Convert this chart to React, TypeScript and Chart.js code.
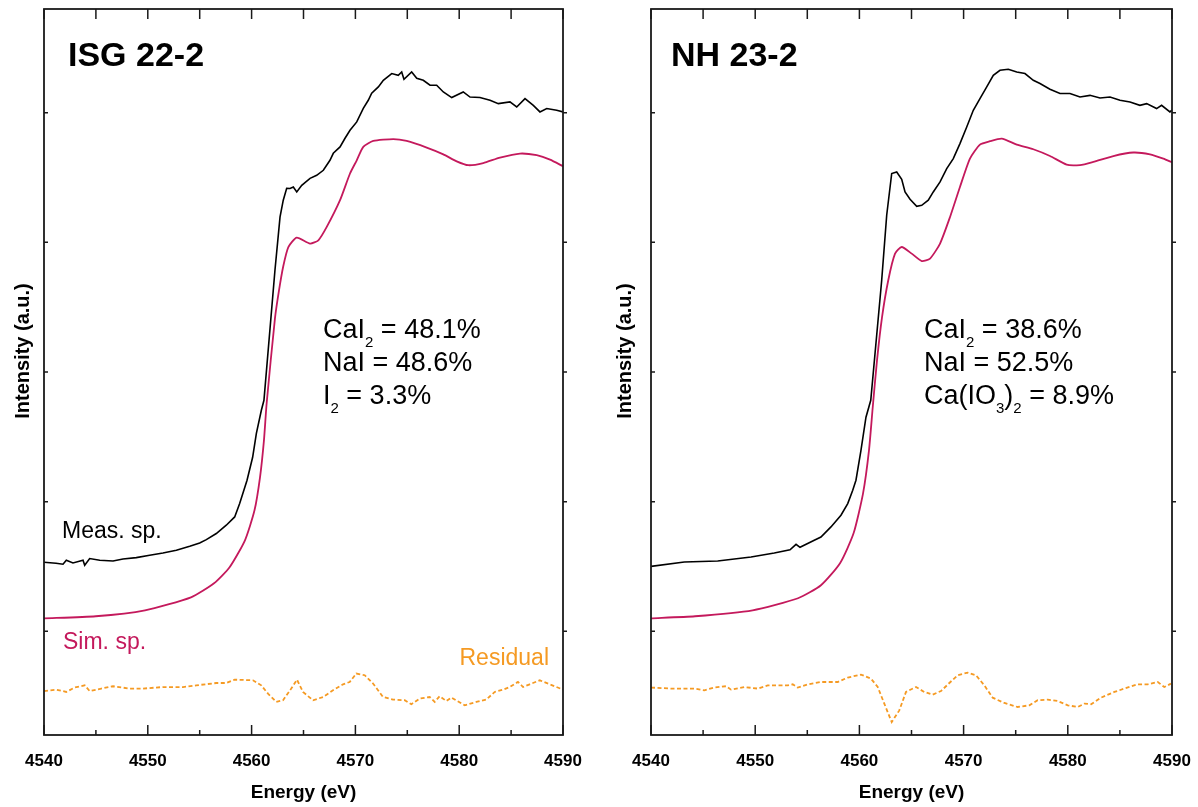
import React, { useEffect, useRef } from "react";
import { Chart, registerables } from "chart.js";

Chart.register(...registerables);

const FONT = "'Liberation Sans', Arial, Helvetica, sans-serif";
const PINK = "#c4195c";
const ORANGE = "#f59a23";

// ---- axes ----
const energyTicks = [4540, 4550, 4560, 4570, 4580, 4590];
const energyTickLabels = ["4540", "4550", "4560", "4570", "4580", "4590"];
const energyMinorTicks = [4545, 4555, 4565, 4575, 4585];
const intensityTicks = [0, 1, 2, 3, 4];
const xTitle = "Energy (eV)";
const yTitle = "Intensity (a.u.)";

type Pair = [number, number];

// ---- ISG 22-2 : [energy (eV), intensity (a.u.)] ----
const isgMeasured: Pair[] = [
  [4540.0, 0.532], [4541.16, 0.525], [4541.83, 0.517], [4542.15, 0.548], [4542.79, 0.527],
  [4543.76, 0.548], [4543.92, 0.509], [4544.4, 0.561], [4545.37, 0.548], [4546.65, 0.542],
  [4547.61, 0.558], [4548.89, 0.568], [4550.18, 0.586], [4551.46, 0.604], [4552.75, 0.625],
  [4554.04, 0.656], [4555.0, 0.681], [4555.64, 0.707], [4556.6, 0.754], [4557.56, 0.818],
  [4558.37, 0.882], [4558.85, 0.985], [4559.56, 1.165], [4560.1, 1.342], [4560.46, 1.527],
  [4560.94, 1.705], [4561.19, 1.782], [4562.25, 2.785], [4562.74, 3.196], [4563.05, 3.325],
  [4563.38, 3.417], [4563.7, 3.415], [4564.02, 3.427], [4564.35, 3.389], [4564.83, 3.44],
  [4565.63, 3.494], [4566.27, 3.517], [4566.91, 3.556], [4567.55, 3.633], [4567.87, 3.687],
  [4568.52, 3.736], [4569.0, 3.803], [4569.48, 3.865], [4570.13, 3.929], [4570.76, 4.034],
  [4571.24, 4.096], [4571.57, 4.15], [4572.21, 4.199], [4572.69, 4.25], [4573.5, 4.302],
  [4574.13, 4.289], [4574.46, 4.314], [4574.68, 4.258], [4575.42, 4.314], [4575.91, 4.266],
  [4576.54, 4.25], [4577.19, 4.212], [4577.83, 4.212], [4578.47, 4.16], [4579.28, 4.117],
  [4580.39, 4.16], [4581.04, 4.121], [4582.0, 4.117], [4582.97, 4.096], [4583.77, 4.07],
  [4584.89, 4.083], [4585.54, 4.044], [4586.34, 4.109], [4587.14, 4.057], [4587.78, 4.006],
  [4588.43, 4.032], [4589.39, 4.019], [4590.0, 4.006],
];
const isgSimulated: Pair[] = [
  [4540.0, 0.1], [4544.98, 0.116], [4549.73, 0.162], [4554.16, 0.262], [4556.38, 0.37],
  [4557.88, 0.494], [4559.36, 0.702], [4560.28, 0.933], [4560.81, 1.188], [4561.19, 1.473],
  [4561.45, 1.759], [4562.25, 2.414], [4562.64, 2.63], [4563.05, 2.816], [4563.54, 2.964],
  [4564.35, 3.037], [4565.63, 2.991], [4566.43, 3.016], [4567.24, 3.119], [4568.52, 3.325],
  [4569.48, 3.531], [4570.13, 3.633], [4570.76, 3.736], [4571.72, 3.782], [4573.65, 3.797],
  [4574.94, 3.782], [4576.87, 3.731], [4578.47, 3.679], [4579.76, 3.625], [4580.88, 3.595],
  [4582.32, 3.612], [4583.93, 3.654], [4585.86, 3.685], [4587.47, 3.672], [4588.75, 3.638],
  [4590.0, 3.587],
];
const isgResidual: Pair[] = [
  [4540.0, -0.461], [4541.18, -0.45], [4542.15, -0.468], [4542.96, -0.434], [4543.92, -0.417],
  [4544.4, -0.461], [4545.52, -0.442], [4546.65, -0.424], [4548.26, -0.442], [4549.54, -0.442],
  [4551.46, -0.43], [4553.39, -0.43], [4554.67, -0.417], [4556.6, -0.399], [4557.56, -0.399],
  [4558.37, -0.373], [4560.13, -0.378], [4560.93, -0.417], [4561.58, -0.481], [4562.38, -0.545],
  [4563.03, -0.532], [4563.82, -0.442], [4564.37, -0.373], [4564.95, -0.468], [4565.92, -0.532],
  [4566.88, -0.507], [4567.84, -0.455], [4568.81, -0.409], [4569.45, -0.391], [4570.09, -0.326],
  [4570.9, -0.339], [4571.7, -0.403], [4572.66, -0.507], [4573.62, -0.527], [4574.75, -0.532],
  [4575.39, -0.563], [4576.19, -0.519], [4577.16, -0.507], [4577.64, -0.545], [4578.12, -0.501],
  [4578.76, -0.538], [4579.24, -0.511], [4580.53, -0.571], [4581.65, -0.545], [4582.61, -0.527],
  [4583.42, -0.468], [4584.22, -0.45], [4584.86, -0.43], [4585.66, -0.391], [4586.15, -0.43],
  [4586.79, -0.409], [4587.76, -0.378], [4588.72, -0.409], [4590.0, -0.45],
];

// ---- NH 23-2 ----
const nhMeasured: Pair[] = [
  [4540.0, 0.501], [4543.2, 0.535], [4546.4, 0.542], [4549.6, 0.573], [4551.83, 0.604],
  [4553.34, 0.629], [4553.92, 0.671], [4554.3, 0.648], [4555.67, 0.702], [4556.31, 0.727],
  [4557.27, 0.805], [4558.23, 0.895], [4558.88, 0.985], [4559.36, 1.088], [4559.67, 1.165],
  [4560.15, 1.396], [4560.63, 1.651], [4561.09, 1.782], [4562.14, 2.708], [4562.62, 3.209],
  [4563.1, 3.531], [4563.58, 3.543], [4564.06, 3.487], [4564.38, 3.389], [4564.86, 3.332],
  [4565.5, 3.278], [4565.98, 3.286], [4566.61, 3.325], [4567.09, 3.389], [4567.74, 3.466],
  [4568.38, 3.569], [4569.01, 3.646], [4569.65, 3.762], [4570.3, 3.89], [4570.93, 4.019],
  [4571.57, 4.109], [4572.22, 4.199], [4572.85, 4.289], [4573.49, 4.327], [4574.29, 4.335],
  [4575.1, 4.314], [4575.89, 4.302], [4576.69, 4.25], [4577.33, 4.225], [4578.29, 4.181],
  [4579.25, 4.148], [4580.21, 4.148], [4581.17, 4.121], [4582.13, 4.134], [4583.09, 4.114],
  [4584.05, 4.121], [4585.01, 4.096], [4585.97, 4.083], [4586.92, 4.057], [4587.57, 4.07],
  [4588.52, 4.032], [4589.0, 4.057], [4589.8, 4.006], [4590.0, 4.02],
];
const nhSimulated: Pair[] = [
  [4540.0, 0.1], [4544.22, 0.116], [4549.75, 0.162], [4554.11, 0.255], [4556.31, 0.355],
  [4558.14, 0.525], [4559.44, 0.756], [4560.35, 1.064], [4560.92, 1.396], [4561.28, 1.728],
  [4561.69, 2.09], [4562.17, 2.422], [4562.77, 2.708], [4563.42, 2.913], [4564.06, 2.964],
  [4565.02, 2.913], [4565.98, 2.856], [4566.78, 2.875], [4567.74, 2.991], [4568.7, 3.196],
  [4569.65, 3.427], [4570.61, 3.646], [4571.57, 3.754], [4572.53, 3.78], [4573.66, 3.8],
  [4575.1, 3.754], [4576.69, 3.718], [4578.29, 3.666], [4579.89, 3.6], [4581.17, 3.595],
  [4582.45, 3.62], [4584.37, 3.666], [4586.29, 3.693], [4587.89, 3.679], [4589.17, 3.646],
  [4590.0, 3.618],
];
const nhResidual: Pair[] = [
  [4540.0, -0.434], [4541.92, -0.442], [4544.16, -0.442], [4545.12, -0.455], [4546.07, -0.434],
  [4547.2, -0.424], [4547.68, -0.45], [4548.95, -0.43], [4550.24, -0.442], [4551.2, -0.417],
  [4553.12, -0.417], [4553.6, -0.409], [4554.08, -0.434], [4555.04, -0.409], [4556.31, -0.391],
  [4557.92, -0.391], [4558.88, -0.357], [4560.15, -0.334], [4561.11, -0.365], [4561.76, -0.43],
  [4562.39, -0.558], [4563.1, -0.7], [4563.83, -0.61], [4564.47, -0.468], [4565.43, -0.43],
  [4566.23, -0.468], [4567.03, -0.489], [4567.83, -0.461], [4568.63, -0.399], [4569.43, -0.339],
  [4570.39, -0.319], [4571.19, -0.339], [4571.99, -0.417], [4572.79, -0.512], [4573.91, -0.553],
  [4575.19, -0.584], [4576.31, -0.571], [4577.11, -0.532], [4578.07, -0.527], [4579.03, -0.538],
  [4580.0, -0.571], [4580.95, -0.584], [4581.59, -0.558], [4582.23, -0.563], [4583.19, -0.512],
  [4584.47, -0.468], [4585.43, -0.442], [4586.71, -0.409], [4587.67, -0.409], [4588.63, -0.391],
  [4589.26, -0.43], [4589.9, -0.404],
];

type Seg = { t: string; sub?: boolean };

const isgComposition: Seg[][] = [
  [{ t: "CaI" }, { t: "2", sub: true }, { t: " = 48.1%" }],
  [{ t: "NaI = 48.6%" }],
  [{ t: "I" }, { t: "2", sub: true }, { t: " = 3.3%" }],
];
const nhComposition: Seg[][] = [
  [{ t: "CaI" }, { t: "2", sub: true }, { t: " = 38.6%" }],
  [{ t: "NaI = 52.5%" }],
  [{ t: "Ca(IO" }, { t: "3", sub: true }, { t: ")" }, { t: "2", sub: true }, { t: " = 8.9%" }],
];

type Geo = {
  canvasLeft: number; width: number; axisLeft: number; axisRight: number;
  labelX: number; annX: number; yTitleX: number; curveLabels: boolean;
};

type Panel = {
  name: string; measured: Pair[]; simulated: Pair[]; residual: Pair[];
  composition: Seg[][]; geo: Geo;
};

const panels: Panel[] = [
  {
    name: "ISG 22-2", measured: isgMeasured, simulated: isgSimulated, residual: isgResidual,
    composition: isgComposition,
    geo: { canvasLeft: 0, width: 600, axisLeft: 44, axisRight: 563, labelX: 68, annX: 323, yTitleX: 23, curveLabels: true },
  },
  {
    name: "NH 23-2", measured: nhMeasured, simulated: nhSimulated, residual: nhResidual,
    composition: nhComposition,
    geo: { canvasLeft: 600, width: 598, axisLeft: 51, axisRight: 572, labelX: 71, annX: 324, yTitleX: 25, curveLabels: false },
  },
];

const HEIGHT = 807;
const PLOT_TOP = 9;
const PLOT_BOTTOM = 735;

const toPts = (a: Pair[]) => a.map(([x, y]) => ({ x, y }));

function overlay(p: Panel) {
  return {
    id: "overlay",
    afterDraw(chart: any) {
      const ctx: CanvasRenderingContext2D = chart.ctx;
      const { left, right, top, bottom } = chart.chartArea;
      const xs = chart.scales.x;
      const ys = chart.scales.y;
      ctx.save();
      // ticks
      ctx.strokeStyle = "#1a1a1a";
      ctx.lineWidth = 1.5;
      ctx.beginPath();
      for (const v of energyTicks) {
        const px = xs.getPixelForValue(v);
        ctx.moveTo(px, bottom); ctx.lineTo(px, bottom - 10);
        ctx.moveTo(px, top); ctx.lineTo(px, top + 10);
      }
      for (const v of energyMinorTicks) {
        const px = xs.getPixelForValue(v);
        ctx.moveTo(px, bottom); ctx.lineTo(px, bottom - 5);
        ctx.moveTo(px, top); ctx.lineTo(px, top + 10);
      }
      for (const v of intensityTicks) {
        const py = ys.getPixelForValue(v);
        ctx.moveTo(left, py); ctx.lineTo(left + 4, py);
        ctx.moveTo(right, py); ctx.lineTo(right + 4, py);
      }
      ctx.stroke();
      // frame
      ctx.lineWidth = 1.8;
      ctx.strokeRect(left, top, right - left, bottom - top);

      // y title
      ctx.save();
      ctx.fillStyle = "#000";
      ctx.font = `bold 20px ${FONT}`;
      ctx.translate(p.geo.yTitleX, 351);
      ctx.rotate(-Math.PI / 2);
      ctx.textAlign = "center";
      ctx.textBaseline = "middle";
      ctx.fillText(yTitle, 0, 0);
      ctx.restore();

      ctx.textAlign = "left";
      ctx.textBaseline = "alphabetic";
      // panel name
      ctx.fillStyle = "#000";
      ctx.font = `bold 34px ${FONT}`;
      ctx.fillText(p.name, p.geo.labelX, 66);

      // composition
      const baselines = [338, 371, 404];
      p.composition.forEach((line, i) => {
        let x = p.geo.annX;
        for (const s of line) {
          ctx.font = s.sub ? `15px ${FONT}` : `27px ${FONT}`;
          ctx.fillText(s.t, x, baselines[i] + (s.sub ? 9 : 0));
          x += ctx.measureText(s.t).width;
        }
      });

      if (p.geo.curveLabels) {
        ctx.font = `23px ${FONT}`;
        ctx.fillStyle = "#000";
        ctx.fillText("Meas. sp.", 62, 538);
        ctx.fillStyle = PINK;
        ctx.fillText("Sim. sp.", 63, 649);
        ctx.fillStyle = ORANGE;
        ctx.textAlign = "right";
        ctx.fillText("Residual", 549, 665);
      }
      ctx.restore();
    },
  };
}

function makeConfig(p: Panel): any {
  return {
    type: "line",
    data: {
      datasets: [
        { label: "Meas. sp.", data: toPts(p.measured), borderColor: "#000", borderWidth: 1.6, pointRadius: 0, tension: 0, fill: false },
        { label: "Sim. sp.", data: toPts(p.simulated), borderColor: PINK, borderWidth: 1.8, pointRadius: 0, tension: 0.2, fill: false },
        { label: "Residual", data: toPts(p.residual), borderColor: ORANGE, borderWidth: 1.8, borderDash: [4, 2.5], pointRadius: 0, tension: 0, fill: false },
      ],
    },
    options: {
      animation: false,
      responsive: false,
      devicePixelRatio: 1,
      events: [],
      layout: { padding: { left: 0, top: PLOT_TOP, right: p.geo.width - p.geo.axisRight, bottom: 0 } },
      plugins: { legend: { display: false }, tooltip: { enabled: false }, title: { display: false } },
      scales: {
        x: {
          type: "linear",
          min: 4540,
          max: 4590,
          afterBuildTicks: (s: any) => { s.ticks = energyTicks.map((v) => ({ value: v })); },
          afterFit: (s: any) => {
            s.height = HEIGHT - PLOT_BOTTOM;
            s.paddingLeft = 0;
            s.paddingRight = 0;
          },
          ticks: {
            font: { family: FONT, size: 17, weight: "bold" },
            color: "#000",
            padding: 16,
            autoSkip: false,
            maxRotation: 0,
            callback: (_v: any, i: number) => energyTickLabels[i],
          },
          grid: { display: false, drawTicks: false },
          border: { display: false },
          title: { display: true, text: xTitle, color: "#000", font: { family: FONT, size: 19, weight: "bold" }, padding: { top: 0, bottom: 3 } },
        },
        y: {
          type: "linear",
          min: -0.8,
          max: 4.8,
          afterBuildTicks: (s: any) => { s.ticks = intensityTicks.map((v) => ({ value: v })); },
          afterFit: (s: any) => { s.width = p.geo.axisLeft; s.paddingTop = 0; s.paddingBottom = 0; },
          ticks: { display: false },
          grid: { display: false, drawTicks: false },
          border: { display: false },
          title: { display: false },
        },
      },
    },
    plugins: [overlay(p)],
  };
}

function PanelChart({ panel }: { panel: Panel }) {
  const ref = useRef<HTMLCanvasElement | null>(null);
  useEffect(() => {
    if (!ref.current) return;
    const chart = new Chart(ref.current, makeConfig(panel));
    return () => chart.destroy();
  }, [panel]);
  return (
    <canvas
      ref={ref}
      width={panel.geo.width}
      height={HEIGHT}
      style={{ position: "absolute", left: panel.geo.canvasLeft, top: 0, width: panel.geo.width, height: HEIGHT }}
    />
  );
}

export default function App() {
  return (
    <div style={{ position: "fixed", left: 0, top: 0, width: 1198, height: HEIGHT, background: "#fff", overflow: "hidden" }}>
      {panels.map((p) => (
        <PanelChart key={p.name} panel={p} />
      ))}
    </div>
  );
}
